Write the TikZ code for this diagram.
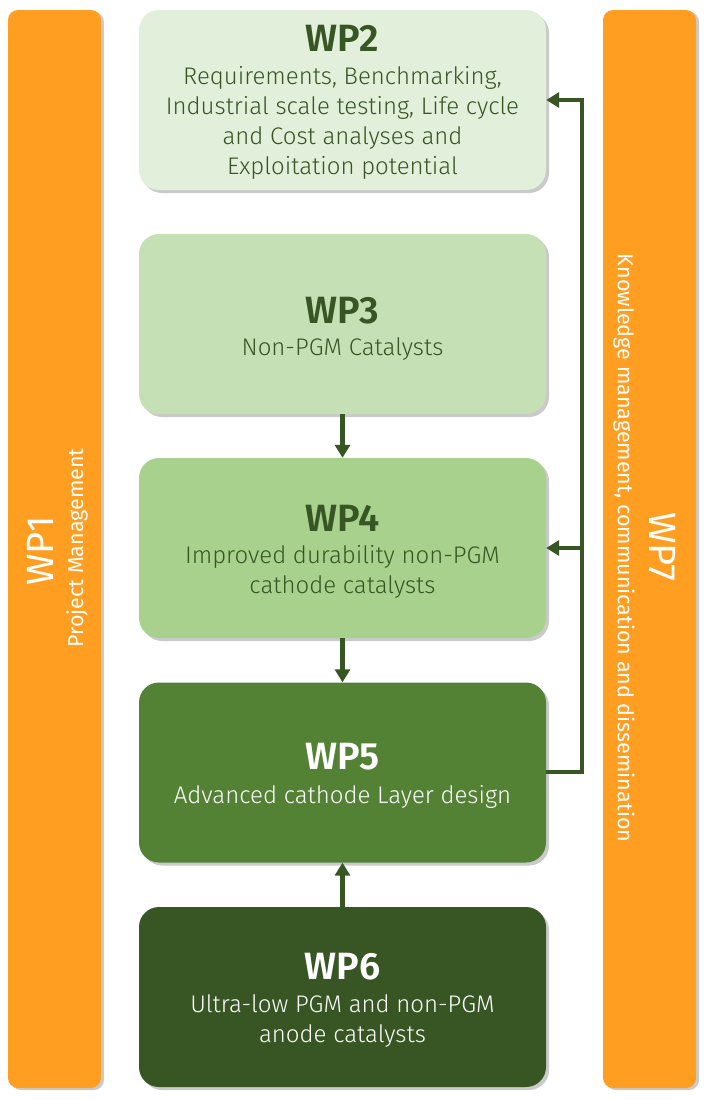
\documentclass[tikz,border=0pt]{standalone}
\usepackage{fontspec}
\setmainfont{Fira Sans}[UprightFont=* Light, BoldFont=* SemiBold]
\newfontfamily\sidefont{Fira Sans}
\usetikzlibrary{shadows,arrows.meta}
\definecolor{orangebar}{HTML}{FF9E20}
\definecolor{wpTwo}{HTML}{E2EFDA}
\definecolor{wpThree}{HTML}{C5E0B4}
\definecolor{wpFour}{HTML}{A9D18E}
\definecolor{wpFive}{HTML}{548235}
\definecolor{wpSix}{HTML}{375623}
\definecolor{darkgreen}{HTML}{375623}
\tikzset{
  wpbox/.style={rounded corners=20pt, minimum width=407pt, minimum height=180pt, inner sep=0pt,
    drop shadow={shadow xshift=3pt, shadow yshift=-3pt, opacity=0.35, fill=black!60}},
  sidebar/.style={rounded corners=10pt, fill=orangebar, minimum width=93pt, minimum height=1078pt, inner sep=0pt,
    drop shadow={shadow xshift=3pt, shadow yshift=-2pt, opacity=0.35, fill=black!60}},
  conn/.style={draw=darkgreen, line width=4.5pt},
  tip/.style={-{Triangle[length=13pt,width=15pt]}},
  title/.style={font=\fontsize{38}{42}\selectfont\bfseries},
  body/.style={font=\fontsize{24}{30}\selectfont, align=center},
  sidetitle/.style={text=white, font=\sidefont\fontsize{38}{42}\selectfont},
  sidesub/.style={text=white, font=\sidefont\fontsize{21.5}{24}\selectfont},
}
\begin{document}
\begin{tikzpicture}[x=1pt,y=-1pt]
\useasboundingbox (0,0) rectangle (710,1100);
% side bars
\node[sidebar] (wp1) at (54.5,549) {};
\node[sidebar] (wp7) at (649.5,549) {};
\node[sidetitle, rotate=90] (wp1t) at (40,551) {WP1};
\node[sidesub, rotate=90] (wp1s) at (77,548) {Project Management};
\node[sidetitle, rotate=-90] (wp7t) at (662,547) {WP7};
\node[sidesub, rotate=-90] (wp7s) at (624,548) {Knowledge management, communication and dissemination};
% boxes
\node[wpbox, fill=wpTwo] (wp2) at (342.5,100) {};
\node[wpbox, fill=wpThree] (wp3) at (342.5,324) {};
\node[wpbox, fill=wpFour] (wp4) at (342.5,548) {};
\node[wpbox, fill=wpFive] (wp5) at (342.5,772.5) {};
\node[wpbox, fill=wpSix] (wp6) at (342.5,997) {};
% texts
\node[title, text=darkgreen] (wp2t) at (342.5,38) {WP2};
\node[body, text=darkgreen] (wp2b) at (342.5,123) {Requirements, Benchmarking,\\Industrial scale testing, Life cycle\\and Cost analyses and\\Exploitation potential};
\node[title, text=darkgreen] (wp3t) at (342.5,311) {WP3};
\node[body, text=darkgreen] (wp3b) at (342.5,349) {Non-PGM Catalysts};
\node[title, text=darkgreen] (wp4t) at (342.5,518) {WP4};
\node[body, text=darkgreen] (wp4b) at (342.5,572) {Improved durability non-PGM\\cathode catalysts};
\node[title, text=white] (wp5t) at (342.5,757) {WP5};
\node[body, text=white] (wp5b) at (342.5,797) {Advanced cathode Layer design};
\node[title, text=white] (wp6t) at (342.5,967) {WP6};
\node[body, text=white] (wp6b) at (342.5,1021) {Ultra-low PGM and non-PGM\\anode catalysts};
% connectors
\coordinate (jTop) at (582,100);
\coordinate (jMid) at (582,548);
\coordinate (jBot) at (582,772);
\draw[conn, tip] (wp3.south) -- (wp4.north);
\draw[conn, tip] (wp4.south) -- (wp5.north);
\draw[conn, tip] (wp6.north) -- (wp5.south);
\draw[conn, tip, line join=miter] (wp5.east |- jBot) -- (jBot) -- (jTop) -- (wp2.east);
\draw[conn, tip] (jMid) -- (wp4.east);
\end{tikzpicture}
\end{document}
